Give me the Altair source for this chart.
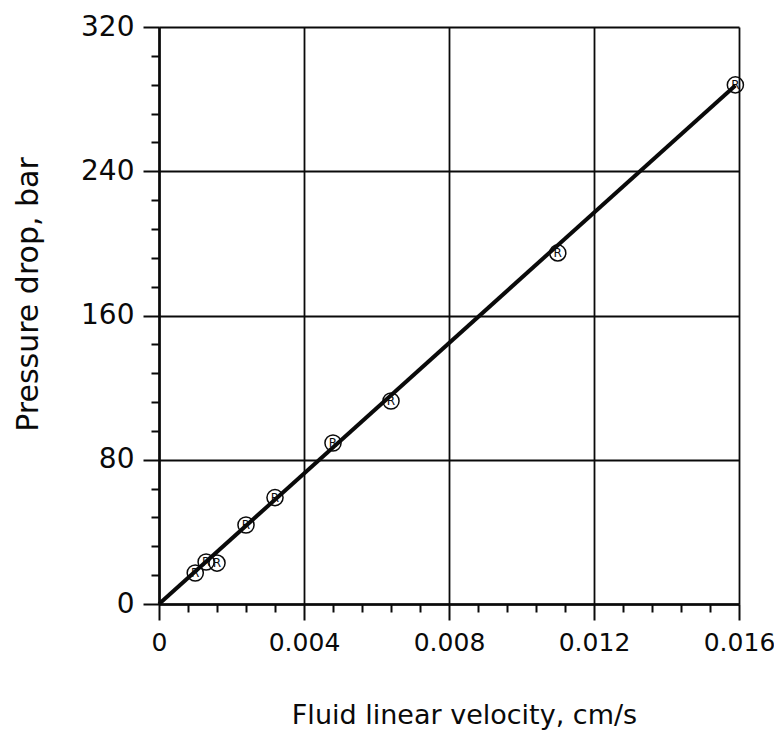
import altair as alt
import pandas as pd

# Data
velocity = [0.0010, 0.0013, 0.0016, 0.0024, 0.0032, 0.0048, 0.0064, 0.0110, 0.0159]
pressure = [17.2, 23.3, 22.7, 43.8, 59.0, 89.3, 112.6, 194.7, 287.9]
marker_label = ["R", "R", "R", "R", "R", "R", "R", "R", "R"]
fit_velocity = [0.0, 0.0159]
fit_pressure = [0.0, 287.6]

x_ticks = [round(i * 0.0008, 4) for i in range(21)]
y_ticks = [i * 16 for i in range(21)]

pts = pd.DataFrame({"v": velocity, "p": pressure, "lab": marker_label})
fit = pd.DataFrame({"v": fit_velocity, "p": fit_pressure})

FONT = "DejaVu Sans"
INK = "#0a0a0a"

x_major = "abs(datum.value * 250 - round(datum.value * 250)) < 0.01"
y_major = "abs(datum.value / 80 - round(datum.value / 80)) < 0.01"

x_axis = alt.Axis(
    values=x_ticks,
    grid=True,
    gridColor=INK,
    gridWidth=1.8,
    gridOpacity={"condition": {"test": x_major, "value": 1}, "value": 0},
    tickSize={"condition": {"test": x_major, "value": 16}, "value": 8},
    tickColor=INK,
    tickWidth=2,
    domainColor=INK,
    domainWidth=2.6,
    labelExpr=f"({x_major}) ? (datum.value == 0 ? '0' : format(datum.value, '.3f')) : ''",
    labelFont=FONT,
    labelFontSize=25,
    labelColor=INK,
    labelPadding=10,
    labelOverlap=False,
    labelFlush=False,
    title="Fluid linear velocity, cm/s",
    titleFont=FONT,
    titleFontSize=27,
    titleFontWeight="normal",
    titleColor=INK,
    titleX=305,
    titleY=119,
    titleAlign="center",
    titleBaseline="alphabetic",
)

y_axis = alt.Axis(
    values=y_ticks,
    grid=True,
    gridColor=INK,
    gridWidth=1.8,
    gridOpacity={"condition": {"test": y_major, "value": 1}, "value": 0},
    tickSize={"condition": {"test": y_major, "value": 16}, "value": 8},
    tickColor=INK,
    tickWidth=2,
    domainColor=INK,
    domainWidth=2.6,
    labelExpr=f"({y_major}) ? format(datum.value, 'd') : ''",
    labelFont=FONT,
    labelFontSize=28,
    labelColor=INK,
    labelPadding=9,
    labelOverlap=False,
    labelFlush=False,
    title="Pressure drop, bar",
    titleFont=FONT,
    titleFontSize=30,
    titleFontWeight="normal",
    titleColor=INK,
    titleAngle=270,
    titleX=-122,
    titleY=267,
    titleAlign="center",
    titleBaseline="alphabetic",
)

x_enc = alt.X("v:Q", scale=alt.Scale(domain=[0, 0.016], nice=False, zero=True), axis=x_axis)
y_enc = alt.Y("p:Q", scale=alt.Scale(domain=[0, 320], nice=False, zero=True), axis=y_axis)

line = alt.Chart(fit).mark_line(color=INK, strokeWidth=4).encode(x=x_enc, y=y_enc)

circles = alt.Chart(pts).mark_point(
    shape="circle", size=260, filled=False, color=INK, strokeWidth=1.5, opacity=1
).encode(x=x_enc, y=y_enc)

letters = alt.Chart(pts).mark_text(
    font=FONT, fontSize=12, color=INK, baseline="middle", align="center"
).encode(x=x_enc, y=y_enc, text="lab:N")

chart = (
    alt.layer(line, circles, letters)
    .properties(
        width=580,
        height=577,
        autosize=alt.AutoSizeParams(type="none"),
        padding={"left": 151, "top": 19, "right": 35, "bottom": 126},
        background="white",
    )
    .configure_view(stroke=None)
)

chart.save("out.html", embed_options={"renderer": "svg", "actions": False})
